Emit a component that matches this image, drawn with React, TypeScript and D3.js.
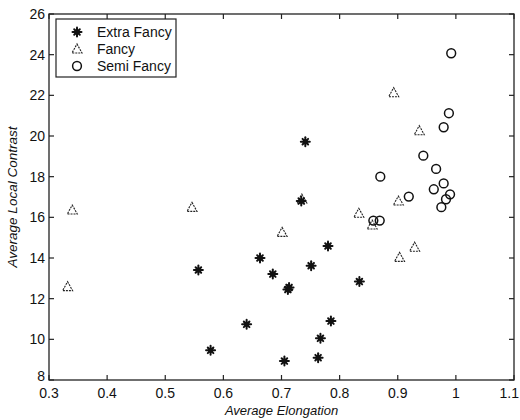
import React from "react";
import * as d3 from "d3";

const extraFancyX = [0.741, 0.734, 0.557, 0.663, 0.685, 0.711, 0.713, 0.751, 0.78, 0.834, 0.64, 0.578, 0.785, 0.767, 0.705, 0.763];
const extraFancyY = [19.72, 16.8, 13.41, 14.0, 13.21, 12.45, 12.55, 13.62, 14.59, 12.84, 10.74, 9.46, 10.9, 10.05, 8.93, 9.1];

const fancyX = [0.332, 0.34, 0.546, 0.701, 0.735, 0.833, 0.856, 0.893, 0.937, 0.901, 0.903, 0.929];
const fancyY = [12.59, 16.36, 16.49, 15.26, 16.9, 16.2, 15.62, 22.13, 20.26, 16.8, 14.03, 14.53];

const semiFancyX = [0.992, 0.988, 0.979, 0.944, 0.87, 0.966, 0.919, 0.962, 0.979, 0.99, 0.983, 0.975, 0.858, 0.869];
const semiFancyY = [24.07, 21.12, 20.43, 19.03, 18.0, 18.38, 17.02, 17.38, 17.67, 17.13, 16.89, 16.5, 15.84, 15.84];

const xTicks = [0.3, 0.4, 0.5, 0.6, 0.7, 0.8, 0.9, 1, 1.1];
const yTicks = [8, 10, 12, 14, 16, 18, 20, 22, 24, 26];
const legendLabels = ["Extra Fancy", "Fancy", "Semi Fancy"];

const FONT = "'Liberation Sans', Arial, Helvetica, sans-serif";

const Star = ({ x, y }: { x: number; y: number }) => (
  <g transform={`translate(${x},${y})`} stroke="#111" strokeWidth={2} strokeLinecap="round">
    <line x1={-4.5} y1={0} x2={4.5} y2={0} />
    <line x1={0} y1={-4.5} x2={0} y2={4.5} />
    <line x1={-2.8} y1={-2.8} x2={2.8} y2={2.8} />
    <line x1={-2.8} y1={2.8} x2={2.8} y2={-2.8} />
    <circle r={2.6} fill="#111" stroke="none" />
  </g>
);

const Tri = ({ x, y }: { x: number; y: number }) => (
  <path
    transform={`translate(${x},${y})`}
    d="M0,-5 L5,4 L-5,4 Z"
    fill="none"
    stroke="#222"
    strokeWidth={1.1}
    strokeDasharray="2,1"
  />
);

const Circ = ({ x, y }: { x: number; y: number }) => (
  <circle cx={x} cy={y} r={4.4} fill="none" stroke="#111" strokeWidth={1.5} />
);

export default function App() {
  const W = 520;
  const H = 420;
  const left = 49;
  const right = 514;
  const top = 14;
  const bottom = 380;
  const xs = d3.scaleLinear().domain([0.3, 1.1]).range([left, right]);
  const ys = d3.scaleLinear().domain([8, 26]).range([bottom, top]);
  const tl = 5;
  const lastX = xTicks[xTicks.length - 1];

  return (
    <svg
      width={W}
      height={H}
      style={{ position: "absolute", left: 0, top: 0, background: "#fff" }}
      fontFamily={FONT}
    >
      <rect x={0} y={0} width={W} height={H} fill="#fff" />
      <rect x={left} y={top} width={right - left} height={bottom - top} fill="none" stroke="#222" strokeWidth={1.3} />
      {xTicks.map((t) => (
        <g key={"x" + t}>
          <line x1={xs(t)} x2={xs(t)} y1={bottom} y2={bottom - tl} stroke="#222" strokeWidth={1.2} />
          <line x1={xs(t)} x2={xs(t)} y1={top} y2={top + tl} stroke="#222" strokeWidth={1.2} />
          <text
            x={t === lastX ? W - 1 : xs(t)}
            y={bottom + 18}
            fontSize={14}
            textAnchor={t === lastX ? "end" : "middle"}
            fill="#111"
          >
            {String(t)}
          </text>
        </g>
      ))}
      {yTicks.map((t) => (
        <g key={"y" + t}>
          <line x1={left} x2={left + tl} y1={ys(t)} y2={ys(t)} stroke="#222" strokeWidth={1.2} />
          <line x1={right} x2={right - tl} y1={ys(t)} y2={ys(t)} stroke="#222" strokeWidth={1.2} />
          <text x={left - 4} y={ys(t)} dy={t === 8 ? "0.1em" : "0.36em"} fontSize={14} textAnchor="end" fill="#111">
            {String(t)}
          </text>
        </g>
      ))}
      <text x={(left + right) / 2} y={415} fontSize={13} fontStyle="italic" textAnchor="middle" fill="#111">
        Average Elongation
      </text>
      <text
        transform={`translate(17,${(top + bottom) / 2}) rotate(-90)`}
        fontSize={13.5}
        fontStyle="italic"
        textAnchor="middle"
        fill="#111"
      >
        Average Local Contrast
      </text>

      {fancyX.map((v, i) => (
        <Tri key={"f" + i} x={xs(v)} y={ys(fancyY[i])} />
      ))}
      {semiFancyX.map((v, i) => (
        <Circ key={"s" + i} x={xs(v)} y={ys(semiFancyY[i])} />
      ))}
      {extraFancyX.map((v, i) => (
        <Star key={"e" + i} x={xs(v)} y={ys(extraFancyY[i])} />
      ))}

      <rect x={56} y={19} width={120} height={58} fill="#fff" stroke="#222" strokeWidth={1.2} />
      {legendLabels.map((lab, i) => {
        const cy = 32 + i * 17;
        return (
          <g key={lab}>
            {i === 0 && <Star x={77} y={cy} />}
            {i === 1 && <Tri x={77} y={cy} />}
            {i === 2 && <Circ x={77} y={cy} />}
            <text x={97} y={cy} dy="0.36em" fontSize={14} fill="#111">
              {lab}
            </text>
          </g>
        );
      })}
    </svg>
  );
}
